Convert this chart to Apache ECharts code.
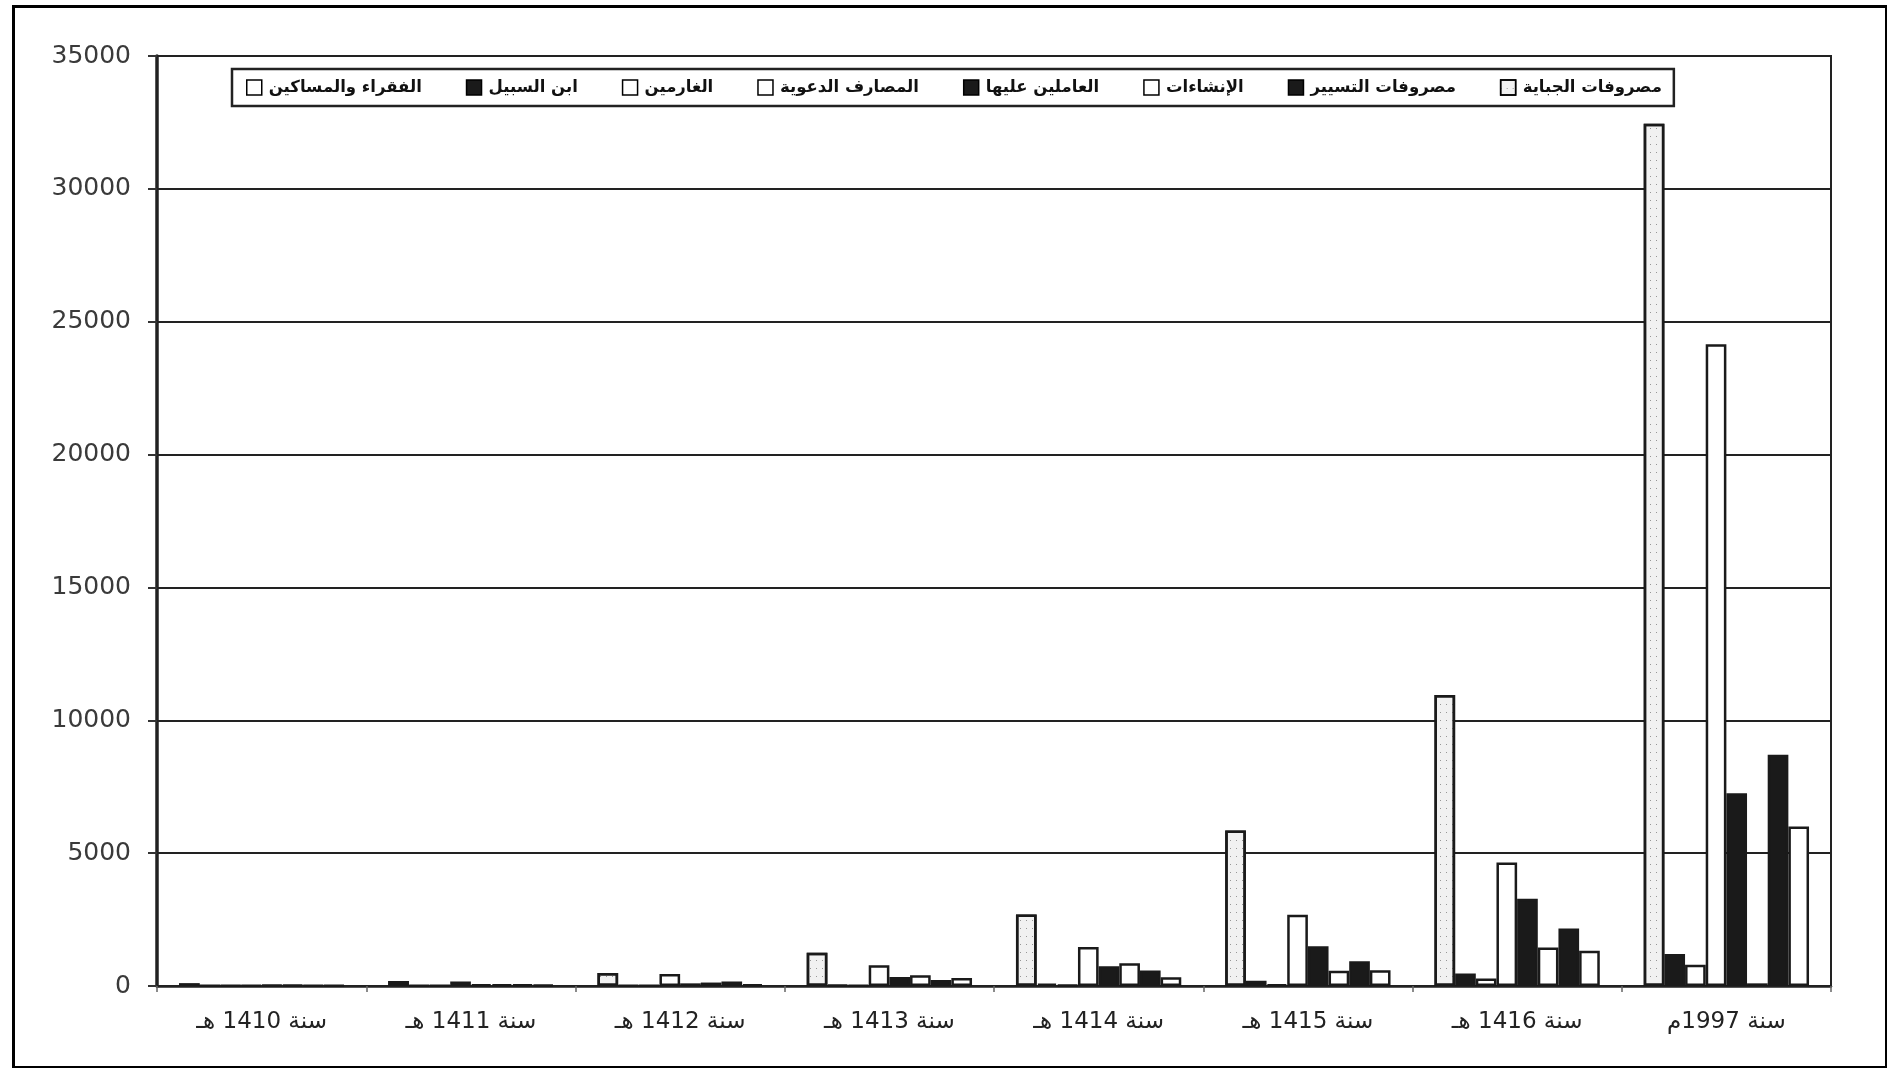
<!DOCTYPE html>
<html>
<head>
<meta charset="utf-8">
<title>مصروفات الزكاة</title>
<script src="https://cdn.jsdelivr.net/npm/echarts@6/dist/echarts.min.js"></script>
<style>
  html, body { margin: 0; padding: 0; background: #fff; }
  #chart { width: 1887px; height: 1068px; }
</style>
</head>
<body>
<div id="chart"></div>
<script>
// Years (Hijri, plus the final Gregorian year)
const categories = ['سنة 1410 هـ', 'سنة 1411 هـ', 'سنة 1412 هـ', 'سنة 1413 هـ', 'سنة 1414 هـ', 'سنة 1415 هـ', 'سنة 1416 هـ', 'سنة 1997م'];

// Expense series, in the order the bars are drawn inside each year
const seriesNames = ['مصروفات الجباية', 'مصروفات التسيير', 'الإنشاءات', 'المصارف الدعوية', 'العاملين عليها', 'الغارمين', 'ابن السبيل', 'الفقراء والمساكين'];

const collection   = [100, 190, 490, 1250, 2690, 5850, 10950, 32450];
const running      = [20, 20, 20, 40, 90, 200, 470, 1200];
const construction = [10, 10, 20, 20, 30, 60, 280, 800];
const daawa        = [20, 170, 450, 780, 1470, 2680, 4650, 24150];
const workers      = [30, 60, 100, 340, 740, 1500, 3280, 7250];
const debtors      = [30, 60, 130, 400, 860, 570, 1450, 100];
const wayfarers    = [20, 50, 170, 230, 580, 930, 2160, 8700];
const poor         = [20, 40, 60, 300, 330, 590, 1330, 6000];

const seriesValues = [collection, running, construction, daawa, workers, debtors, wayfarers, poor];

// Legend reads right-to-left, so list the entries from the left end
const legendOrder = ['الفقراء والمساكين', 'ابن السبيل', 'الغارمين', 'المصارف الدعوية', 'العاملين عليها', 'الإنشاءات', 'مصروفات التسيير', 'مصروفات الجباية'];

// Tick values for the value axis
const yTicks = { min: 0, max: 35000, step: 5000 };

const INK = '#1a1a1a';
const WHITE = '#ffffff';
const fills = ['dots', INK, WHITE, WHITE, INK, WHITE, INK, WHITE];

function barStyle(fill) {
  const base = { borderColor: INK, borderWidth: 2.5 };
  if (fill === 'dots') {
    return Object.assign(base, {
      color: '#f1f1f1',
      decal: {
        symbol: 'rect',
        symbolSize: 1,
        color: 'rgba(60,60,60,0.5)',
        dashArrayX: [1, 5],
        dashArrayY: [1, 7],
        rotation: 0
      }
    });
  }
  return Object.assign(base, { color: fill });
}

const chart = echarts.init(document.getElementById('chart'), null, { renderer: 'canvas' });

const option = {
  backgroundColor: '#ffffff',
  animation: false,
  textStyle: { fontFamily: 'DejaVu Sans' },
  graphic: [{
    type: 'rect',
    left: 11, top: 4,
    shape: { width: 1873, height: 1061 },
    style: { fill: 'none', stroke: '#000', lineWidth: 3 },
    silent: true
  }],
  legend: {
    data: legendOrder,
    left: 232,
    top: 69,
    orient: 'horizontal',
    align: 'left',
    icon: 'rect',
    itemWidth: 15,
    itemHeight: 15,
    itemGap: 44,
    padding: [10, 12, 10, 14],
    borderColor: '#222',
    borderWidth: 2.5,
    backgroundColor: '#fff',
    itemStyle: { borderColor: '#000', borderWidth: 1.5 },
    textStyle: { fontFamily: 'DejaVu Sans', fontSize: 16.5, fontWeight: 'bold', color: '#111', padding: [0, 0, 0, 2] }
  },
  grid: {
    left: 157, right: 56, top: 56, bottom: 82,
    show: true,
    borderColor: '#222',
    borderWidth: 2,
    backgroundColor: 'transparent'
  },
  xAxis: {
    type: 'category',
    data: categories,
    axisLine: { show: true, lineStyle: { color: '#222', width: 2.5 } },
    axisTick: { show: true, length: 6, lineStyle: { color: '#666', width: 1.5 } },
    axisLabel: { margin: 25, fontSize: 23, color: '#222', fontFamily: 'DejaVu Sans' },
    splitLine: { show: false }
  },
  yAxis: {
    type: 'value',
    min: yTicks.min,
    max: yTicks.max,
    interval: yTicks.step,
    axisLine: { show: true, lineStyle: { color: '#222', width: 3.5 } },
    axisTick: { show: true, length: 9, lineStyle: { color: '#333', width: 2 } },
    axisLabel: {
      margin: 26, fontSize: 25, color: '#3a3a3a', fontFamily: 'DejaVu Sans',
      formatter: (v) => String(v)
    },
    splitLine: { show: true, lineStyle: { color: '#222', width: 2 } }
  },
  series: seriesNames.map((name, i) => ({
    name: name,
    type: 'bar',
    data: seriesValues[i],
    barGap: '0%',
    barCategoryGap: '21%',
    itemStyle: barStyle(fills[i]),
    emphasis: { disabled: true }
  }))
};

chart.setOption(option);
</script>
</body>
</html>
